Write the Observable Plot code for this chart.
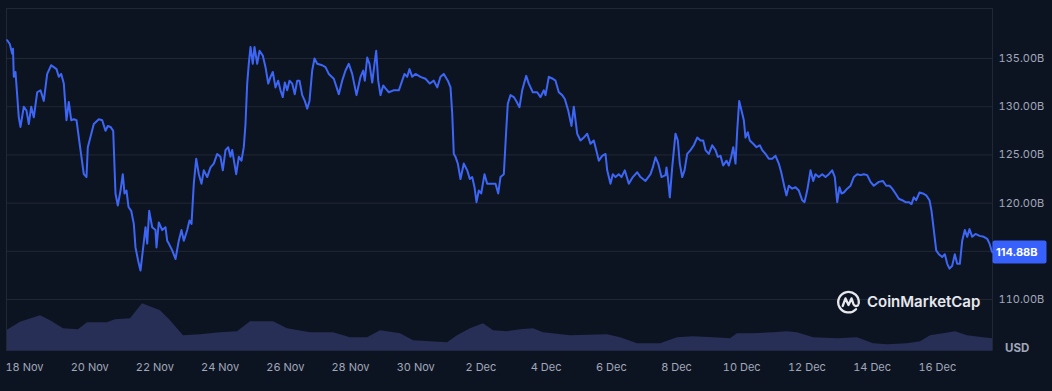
<!DOCTYPE html>
<html><head><meta charset="utf-8">
<script src="https://cdn.jsdelivr.net/npm/d3@7"></script>
<script src="https://cdn.jsdelivr.net/npm/@observablehq/plot@0.6"></script>
<style>
html,body{margin:0;padding:0;background:#0d1421;}
#chart{width:1052px;height:391px;overflow:hidden;}
</style></head><body><div id="chart"></div>
<script>
// days since 18 Nov (UTC)
const dayOffsets = [-0.531,-0.451,-0.377,-0.353,-0.328,-0.276,-0.175,-0.123,-0.021,0.061,0.132,0.206,0.285,0.390,0.491,0.592,0.696,0.819,0.899,0.982,1.052,1.126,1.206,1.288,1.359,1.433,1.512,1.595,1.718,1.819,1.902,1.942,2.126,2.279,2.383,2.485,2.555,2.638,2.721,2.791,2.862,2.945,3.015,3.068,3.129,3.190,3.273,3.353,3.405,3.488,3.558,3.641,3.712,3.764,3.825,3.917,4.018,4.049,4.120,4.224,4.325,4.377,4.426,4.531,4.632,4.733,4.816,4.887,4.991,5.061,5.123,5.193,5.267,5.347,5.429,5.500,5.604,5.706,5.807,5.911,6.012,6.083,6.166,6.249,6.319,6.371,6.494,6.574,6.656,6.727,6.779,6.831,6.880,6.933,7.003,7.055,7.138,7.209,7.310,7.393,7.476,7.546,7.617,7.699,7.782,7.853,7.923,7.985,8.058,8.129,8.212,8.291,8.365,8.436,8.519,8.598,8.672,8.742,8.825,8.896,8.979,9.132,9.233,9.334,9.488,9.641,9.745,9.847,9.948,10.052,10.184,10.307,10.390,10.439,10.512,10.583,10.666,10.736,10.788,10.850,10.920,11.003,11.074,11.175,11.319,11.482,11.586,11.657,11.739,11.810,11.893,11.994,12.147,12.300,12.433,12.555,12.660,12.761,12.862,12.985,13.068,13.120,13.169,13.221,13.292,13.374,13.476,13.580,13.660,13.733,13.804,13.865,13.936,14.009,14.111,14.193,14.295,14.448,14.531,14.601,14.703,14.776,14.825,14.908,15.009,15.083,15.184,15.267,15.390,15.469,15.592,15.727,15.828,15.930,15.982,16.083,16.206,16.288,16.390,16.494,16.574,16.678,16.779,16.850,16.954,17.055,17.157,17.261,17.362,17.463,17.537,17.617,17.721,17.822,17.874,17.975,18.046,18.129,18.230,18.313,18.414,18.537,18.660,18.795,18.896,19.049,19.203,19.273,19.356,19.439,19.540,19.663,19.693,19.733,19.795,19.868,19.969,20.040,20.101,20.175,20.246,20.328,20.430,20.531,20.635,20.736,20.819,20.890,20.991,21.095,21.196,21.267,21.350,21.432,21.534,21.605,21.678,21.740,21.810,21.862,21.923,21.994,22.065,22.116,22.187,22.248,22.353,22.454,22.555,22.629,22.730,22.831,22.936,23.037,23.138,23.212,23.313,23.374,23.445,23.549,23.650,23.752,23.856,23.927,24.009,24.111,24.193,24.264,24.365,24.470,24.571,24.672,24.776,24.856,24.930,25.000,25.061,25.132,25.236,25.338,25.439,25.543,25.644,25.746,25.850,25.951,26.052,26.206,26.328,26.433,26.534,26.617,26.718,26.819,26.923,27.025,27.126,27.209,27.279,27.353,27.454,27.555,27.660,27.761,27.822,27.893,27.966,28.047,28.151,28.231,28.304,28.374,28.457,28.537,28.610,28.691,28.764,28.844,28.917,28.988,29.071,29.172,29.295,29.427,29.530,29.601,29.662,29.693];
// market cap, billions USD
const marketCapB = [136.9,136.5,135.5,136.0,133.1,133.6,128.9,127.9,130.0,129.6,128.2,130.0,128.9,131.5,131.7,130.6,133.4,134.3,134.1,133.9,133.1,133.4,132.4,128.6,130.5,128.6,128.7,128.6,125.5,123.0,122.7,125.8,128.2,128.7,128.6,127.5,128.0,127.9,127.5,121.0,119.75,121.3,123.0,121.0,121.3,119.6,119.2,117.85,115.4,114.0,113.0,115.4,117.5,115.8,119.2,117.5,117.2,115.4,118.0,117.2,117.5,116.1,115.8,115.1,114.2,116.1,117.2,116.1,117.2,118.2,117.85,122.0,124.6,123.0,122.0,123.4,122.7,123.7,124.1,125.1,124.8,123.4,125.5,125.8,124.8,125.5,123.0,124.8,124.4,125.8,128.2,132.4,134.45,136.2,134.45,136.2,134.45,135.8,135.3,134.1,132.4,133.1,133.6,132.0,132.7,131.7,131.0,132.5,131.7,132.7,132.4,131.3,132.7,132.7,131.2,130.6,129.8,130.6,133.75,135.0,134.45,134.3,134.1,133.4,132.9,131.3,132.7,133.75,134.45,133.4,131.2,133.1,133.75,132.7,135.1,134.45,132.5,134.45,135.8,132.7,131.2,132.2,131.9,131.5,131.7,131.7,132.7,133.4,133.1,133.9,133.1,133.4,133.1,132.9,132.4,132.7,132.0,133.1,133.4,132.7,132.0,129.3,125.1,124.8,124.1,122.5,124.1,123.4,122.5,122.7,121.65,120.1,121.3,121.0,123.0,122.0,122.0,122.0,121.0,122.7,123.0,127.5,130.3,131.2,131.0,130.6,129.95,131.7,133.2,132.4,131.5,131.5,131.0,131.7,131.2,133.1,132.9,132.7,131.5,131.2,130.8,129.6,128.0,130.0,127.2,126.5,126.8,127.2,126.15,126.5,125.5,124.4,124.9,125.1,123.4,122.0,123.0,122.7,123.0,122.7,123.4,122.0,122.7,123.2,122.7,122.3,123.0,123.7,124.75,124.1,122.7,122.9,123.7,122.7,120.6,123.7,127.2,126.5,124.1,122.7,123.4,125.1,125.5,126.0,126.8,126.5,126.5,125.5,125.1,126.0,125.5,124.8,124.9,123.9,124.4,123.9,124.8,125.8,124.1,127.5,130.6,129.6,128.6,126.8,127.35,126.5,126.15,125.8,126.0,125.5,125.1,124.6,124.6,124.9,124.1,123.2,121.65,120.8,121.8,121.5,121.65,121.3,120.3,120.1,121.3,123.4,122.3,123.0,122.7,123.0,122.7,123.0,123.4,122.7,120.1,121.65,121.0,121.1,121.5,121.8,122.7,123.0,122.9,123.0,122.9,122.2,121.8,122.2,122.3,121.8,121.8,121.5,121.0,120.45,120.3,120.1,120.1,119.9,120.6,120.3,121.1,121.0,120.8,120.3,119.2,117.2,115.1,114.7,114.4,114.7,113.7,113.2,113.5,114.7,113.7,113.7,116.1,117.2,116.5,117.3,116.5,116.8,116.6,116.5,116.3,115.8,115.1,114.88];
// volume (relative units), days since 18 Nov
const volDayOffsets = [-0.552,-0.123,0.491,0.798,1.196,1.656,1.933,2.546,2.791,3.252,3.620,4.172,4.479,4.877,5.399,6.012,6.534,6.933,7.638,8.068,8.773,9.479,10.0,10.522,10.920,11.534,11.933,12.976,13.282,13.681,14.080,14.387,14.816,15.215,15.614,15.920,16.749,17.884,18.282,18.804,19.510,20.031,20.522,21.135,21.657,21.871,22.362,22.976,23.405,23.712,24.203,24.939,25.553,26.043,26.473,27.086,27.485,27.792,28.191,28.559,28.927,29.418,29.693];
const volumeUnits = [4.1,5.8,7.1,6.1,4.5,4.3,5.7,5.7,6.3,6.5,9.5,8.1,6.1,3.1,3.3,3.7,3.9,5.9,5.9,4.5,3.7,3.7,2.7,2.7,4.1,3.5,2.1,1.7,3.1,4.5,5.5,4.1,3.9,4.3,4.5,3.7,3.1,3.3,2.7,1.5,1.5,2.7,2.9,2.7,2.5,3.5,3.5,3.7,3.9,3.7,2.7,2.5,2.7,1.5,1.3,1.5,1.9,3.1,3.5,3.9,3.1,2.7,2.5];

const xTickDays = [0,2,4,6,8,10,12,14,16,18,20,22,24,26,28];
const xTickLabels = ["18 Nov","20 Nov","22 Nov","24 Nov","26 Nov","28 Nov","30 Nov","2 Dec","4 Dec","6 Dec","8 Dec","10 Dec","12 Dec","14 Dec","16 Dec"];
const gridTicks = [110,115,120,125,130,135];
// the 115 label sits under the current-value badge in the reference
const yLabelTicks = [110,120,125,130,135];
const yTickLabels = ["110.00B","120.00B","125.00B","130.00B","135.00B"];
const lastValue = 114.88;
const lastLabel = "114.88B";
const currencyLabel = "USD";
const brandLabel = "CoinMarketCap";

const t0 = Date.UTC(2025, 10, 18);
const toDate = d => new Date(t0 + d * 864e5);
const price = dayOffsets.map((d, i) => ({date: toDate(d), value: marketCapB[i]}));
const volume = volDayOffsets.map((d, i) => ({date: toDate(d), v: volumeUnits[i]}));
const xTicks = xTickDays.map(toDate);

const yMin = 104.637, yMax = 140.187;
const volK = 0.5187; // price units per volume unit (volume pane height)
const xStart = toDate(-0.552), xEnd = toDate(29.693);
const lineCol = "#3d66f6";
const gridCol = "#222736";

const plot = Plot.plot({
  width: 1052, height: 391,
  marginLeft: 6, marginRight: 60, marginTop: 8, marginBottom: 40.3,
  style: {background: "#0d1421", fontFamily: "Inter, 'Noto Sans', sans-serif", fontSize: "11px", color: "#a1a7bb", overflow: "visible"},
  x: {type: "utc", domain: [xStart, xEnd]},
  y: {domain: [yMin, yMax]},
  marks: [
    Plot.gridY(gridTicks, {stroke: gridCol, strokeOpacity: 1, strokeWidth: 1}),
    Plot.ruleY([yMax], {stroke: gridCol, strokeWidth: 1}),
    Plot.areaY(volume, {x: "date", y1: yMin, y2: d => yMin + d.v * volK, fill: "#272f56", curve: "linear"}),
    Plot.ruleX([xStart, xEnd], {stroke: gridCol, strokeWidth: 1, y1: yMin, y2: yMax}),
    Plot.line(price, {x: "date", y: "value", stroke: lineCol, strokeWidth: 2, strokeLinejoin: "round", curve: "linear"}),
    Plot.axisY(yLabelTicks, {anchor: "right", tickSize: 0, tickPadding: 6, tickFormat: d => yTickLabels[yLabelTicks.indexOf(d)], fill: "#a1a7bb", label: null}),
    Plot.axisX(xTicks, {anchor: "bottom", tickSize: 0, tickPadding: 12, tickFormat: d => xTickLabels[xTicks.findIndex(t => +t === +d)], fill: "#a1a7bb", label: null})
  ]
});
document.getElementById("chart").appendChild(plot);

const svg = d3.select(plot);
const ys = plot.scale("y");
const yl = ys.apply(lastValue);
const g = svg.append("g").attr("text-anchor", "start");
g.append("rect").attr("x", 992.5).attr("y", yl - 11.5).attr("width", 54).attr("height", 23).attr("rx", 2).attr("fill", "#3861fb");
g.append("text").attr("x", 996).attr("y", yl).attr("dy", "0.35em").attr("fill", "#ffffff").attr("text-anchor", "start")
  .attr("font-size", 11).attr("font-weight", 700).attr("font-family", "Inter, sans-serif").text(lastLabel);
g.append("text").attr("x", 1005).attr("y", 348).attr("dy", "0.35em").attr("fill", "#a1a7bb").attr("text-anchor", "start")
  .attr("font-size", 11.5).attr("font-weight", 700).attr("font-family", "Inter, sans-serif").text(currencyLabel);

// brand watermark
const logo = svg.append("g").attr("transform", "translate(848.5,302)").attr("fill", "none").attr("stroke", "#e6e8ee").attr("stroke-width", 2.3).attr("stroke-linecap", "round").attr("stroke-linejoin", "round");
logo.append("path").attr("d", "M 7.5 7.2 A 10.3 10.3 0 1 1 10.2 1.5");
logo.append("path").attr("d", "M -5.8 4 L -3 -3.6 L 0 3 L 3 -3.6 L 5 2.2 Q 6.5 5.2 9.5 3.2");
svg.append("text").attr("x", 867).attr("y", 302).attr("dy", "0.36em").attr("fill", "#e6e8ee").attr("text-anchor", "start")
  .attr("font-size", 15).attr("font-weight", 600).attr("font-family", "Inter, sans-serif").text(brandLabel);
</script></body></html>
